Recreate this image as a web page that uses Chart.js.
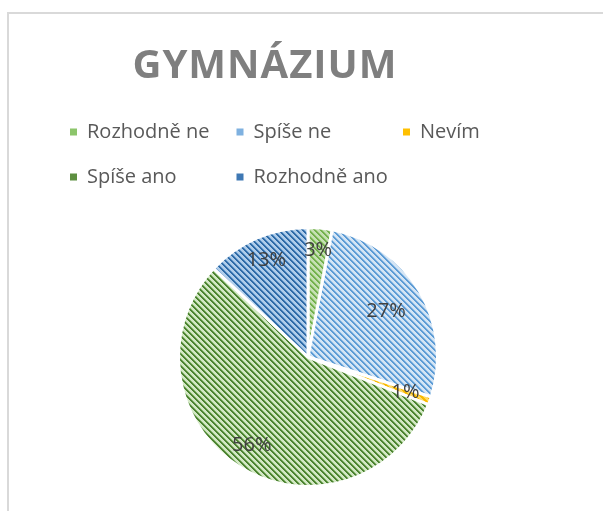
<!DOCTYPE html>
<html>
<head>
<meta charset="utf-8">
<script src="https://cdn.jsdelivr.net/npm/chart.js@4/dist/chart.umd.min.js"></script>
<style>
  body { margin: 0; background: #fff; }
  #frame { position: absolute; left: 7px; top: 12px; width: 620px; height: 520px;
           border-left: 2px solid #d9d9d9; border-top: 2px solid #d9d9d9; }
  #pie { position: absolute; left: 0; top: 0; }
</style>
</head>
<body>
<div id="frame"></div>
<canvas id="pie" width="603" height="511"></canvas>
<script>
const chartTitle = 'GYMNÁZIUM';
const categories = ['Rozhodně ne', 'Spíše ne', 'Nevím', 'Spíše ano', 'Rozhodně ano'];
const shares = [3, 27, 1, 56, 13];

// hatched fills like the Excel "wide downward diagonal" pattern
function stripes(bg, mid, fg) {
    const c = document.createElement('canvas');
    c.width = c.height = 6;
    const g = c.getContext('2d');
    g.fillStyle = bg;
    g.fillRect(0, 0, 6, 6);
    for (let y = 0; y < 6; y++) {
        for (let x = 0; x < 6; x++) {
            const k = ((x - y) % 6 + 6) % 6;
            if (k < 2) { g.fillStyle = fg; g.fillRect(x, y, 1, 1); }
            else if (k === 2) { g.fillStyle = mid; g.fillRect(x, y, 1, 1); }
        }
    }
    return g.createPattern(c, 'repeat');
}

const fills = [
    stripes('#c6e0b4', '#9fcd80', '#72b04c'),
    stripes('#d4e5f5', '#9dc3e6', '#5b9bd5'),
    stripes('#ffd966', '#ffc000', '#f5b800'),
    stripes('#d3e8c5', '#8ab870', '#4b8230'),
    stripes('#b0cdea', '#6d9fd0', '#2e6aa6')
];
const keyColors = ['#8cc56b', '#7fb1e0', '#ffc000', '#5d8f40', '#3f78b4'];

const titlePlugin = {
    id: 'excelTitle',
    afterDraw(chart) {
        const ctx = chart.ctx;
        ctx.save();
        ctx.font = 'bold 40px "Open Sans"';
        ctx.letterSpacing = '1px';
        ctx.fillStyle = '#7f7f7f';
        ctx.textAlign = 'center';
        ctx.textBaseline = 'alphabetic';
        ctx.fillText(chartTitle, 265, 78);
        ctx.restore();
    }
};

const legendPlugin = {
    id: 'gridLegend',
    afterDraw(chart) {
        const ctx = chart.ctx;
        ctx.save();
        ctx.font = '20px "Open Sans"';
        ctx.textBaseline = 'middle';
        chart.data.labels.forEach((label, i) => {
            const col = i % 3, row = Math.floor(i / 3);
            const x = 70 + col * 166.5;
            const y = 132 + row * 45;
            ctx.fillStyle = keyColors[i];
            ctx.fillRect(x, y - 3.5, 7, 7);
            ctx.fillStyle = '#595959';
            ctx.fillText(label, x + 17, y);
        });
        ctx.restore();
    }
};

const labelPlugin = {
    id: 'pctLabels',
    afterDatasetsDraw(chart) {
        const ctx = chart.ctx;
        const meta = chart.getDatasetMeta(0);
        const reach = [0.83, 0.70, 0.80, 0.81, 0.81];
        ctx.save();
        ctx.font = '20px "Open Sans"';
        ctx.fillStyle = '#404040';
        ctx.textAlign = 'center';
        ctx.textBaseline = 'middle';
        meta.data.forEach((arc, i) => {
            const p = arc.getProps(['x', 'y', 'startAngle', 'endAngle', 'outerRadius']);
            const mid = (p.startAngle + p.endAngle) / 2;
            const r = p.outerRadius * reach[i];
            ctx.fillText(chart.data.datasets[0].data[i] + '%', p.x + Math.cos(mid) * r, p.y + Math.sin(mid) * r);
        });
        ctx.restore();
    }
};

const ctx = document.getElementById('pie').getContext('2d');
const pieChart = new Chart(ctx, {
    type: 'pie',
    data: {
        labels: categories,
        datasets: [{
            data: shares,
            backgroundColor: fills,
            borderColor: '#ffffff',
            borderWidth: 3
        }]
    },
    options: {
        responsive: false,
        animation: false,
        events: [],
        layout: {
            padding: { top: 226, bottom: 23, left: 60, right: 47 }
        },
        plugins: {
            legend: { display: false },
            tooltip: { enabled: false }
        }
    },
    plugins: [titlePlugin, legendPlugin, labelPlugin]
});
</script>
</body>
</html>
